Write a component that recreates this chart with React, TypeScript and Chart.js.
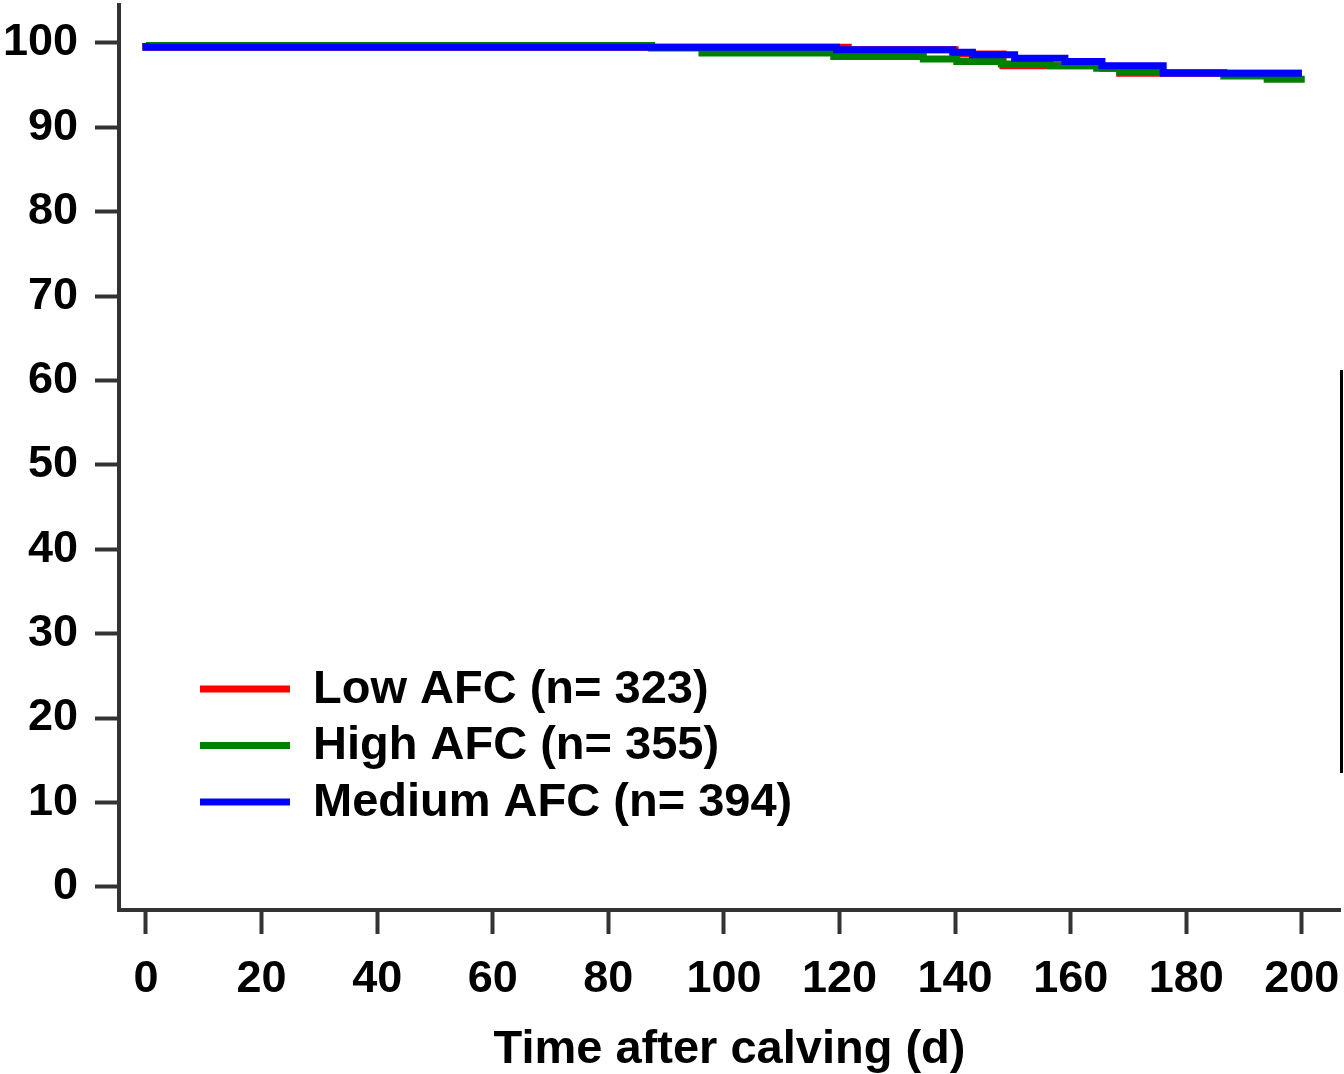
import React, { useEffect, useRef } from "react";
import { Chart, registerables } from "chart.js";

Chart.register(...registerables);

// Kaplan-Meier style step curves (time in days, percent)
const LOW_TIMES = [0, 121.5, 140, 148.3, 165.5, 168.5, 179, 200];
const LOW_VALUES = [100, 99.5, 99.2, 98.7, 97.3, 97.0, 96.4, 96.4];

const HIGH_TIMES = [0, 87.5, 96.2, 119, 134.5, 140.3, 148, 156.4, 164.5, 168.5, 186.5, 194, 197, 200.5];
const HIGH_VALUES = [100, 99.7, 99.4, 98.8, 98.4, 98.1, 97.8, 97.5, 97.3, 97.0, 96.5, 96.1, 95.7, 95.7];

const MEDIUM_TIMES = [0, 119.5, 139.6, 143, 150.3, 159, 165.4, 176, 179, 200];
const MEDIUM_VALUES = [100, 99.5, 99.2, 98.9, 98.6, 98.2, 97.8, 97.3, 96.4, 96.4];

const SERIES_LABELS = ["Low AFC (n= 323)", "High AFC (n= 355)", "Medium AFC (n= 394)"];
const SERIES_COLORS = ["#ff0000", "#008000", "#0000ff"];

const X_TICKS = [0, 20, 40, 60, 80, 100, 120, 140, 160, 180, 200];
const Y_TICKS = [0, 10, 20, 30, 40, 50, 60, 70, 80, 90, 100];
const X_TITLE = "Time after calving (d)";

const FONT_FAMILY = '"Liberation Sans", Arial, sans-serif';
const AXIS_COLOR = "#333333";

const toPoints = (xs: number[], ys: number[]) => xs.map((x, i) => ({ x, y: ys[i] }));

const legendPlugin = {
  id: "customLegend",
  afterDraw(chart: any) {
    const ctx = chart.ctx;
    ctx.save();
    const startY = 689;
    const gap = 56.5;
    chart.data.datasets.forEach((ds: any, i: number) => {
      const y = startY + i * gap;
      ctx.strokeStyle = ds.borderColor;
      ctx.lineWidth = 7;
      ctx.beginPath();
      ctx.moveTo(200, y);
      ctx.lineTo(290, y);
      ctx.stroke();
      ctx.fillStyle = "#000";
      ctx.font = `bold 47px ${FONT_FAMILY}`;
      ctx.textBaseline = "middle";
      ctx.textAlign = "left";
      ctx.fillText(ds.label, 313, y + 1);
    });
    // stray frame edge at right
    ctx.strokeStyle = "#000";
    ctx.lineWidth = 3;
    ctx.beginPath();
    ctx.moveTo(1341.5, 370);
    ctx.lineTo(1341.5, 773);
    ctx.stroke();
    ctx.restore();
  },
};

export default function App() {
  const ref = useRef<HTMLCanvasElement>(null);

  useEffect(() => {
    if (!ref.current) return;
    const seriesTimes = [LOW_TIMES, HIGH_TIMES, MEDIUM_TIMES];
    const seriesValues = [LOW_VALUES, HIGH_VALUES, MEDIUM_VALUES];
    const orders = [2, 1, 0];
    const chart = new Chart(ref.current, {
      type: "line",
      data: {
        datasets: SERIES_LABELS.map((label, i) => ({
          label,
          data: toPoints(seriesTimes[i], seriesValues[i]),
          borderColor: SERIES_COLORS[i],
          backgroundColor: SERIES_COLORS[i],
          borderWidth: 7,
          pointRadius: 0,
          stepped: "after" as const,
          fill: false,
          order: orders[i],
        })),
      },
      options: {
        animation: false,
        responsive: false,
        maintainAspectRatio: false,
        layout: { padding: { left: 0, right: 4, top: 5, bottom: 0 } },
        plugins: {
          legend: { display: false },
          tooltip: { enabled: false },
        },
        scales: {
          x: {
            type: "linear",
            min: -4.67,
            max: 206.6,
            afterBuildTicks: (s: any) => {
              s.ticks = X_TICKS.map((v) => ({ value: v }));
            },
            afterFit: (s: any) => {
              s.height = 164;
              s.paddingLeft = 0;
              s.paddingRight = 0;
            },
            grid: {
              drawOnChartArea: false,
              drawTicks: true,
              tickLength: 24,
              tickWidth: 4,
              tickColor: AXIS_COLOR,
            },
            border: { color: AXIS_COLOR, width: 4 },
            ticks: {
              color: "#000",
              font: { family: FONT_FAMILY, size: 45, weight: "bold" },
              padding: 19,
              maxRotation: 0,
              autoSkip: false,
              callback: (v: any) => String(v),
            },
            title: {
              display: true,
              text: X_TITLE,
              color: "#000",
              font: { family: FONT_FAMILY, size: 47, weight: "bold", lineHeight: 1 },
              padding: { top: 0, bottom: 0 },
            },
          },
          y: {
            type: "linear",
            min: -2.75,
            max: 104.5,
            afterBuildTicks: (s: any) => {
              s.ticks = Y_TICKS.map((v) => ({ value: v }));
            },
            afterFit: (s: any) => {
              s.width = 119;
              s.paddingTop = 0;
              s.paddingBottom = 0;
            },
            grid: {
              drawOnChartArea: false,
              drawTicks: true,
              tickLength: 24,
              tickWidth: 4,
              tickColor: AXIS_COLOR,
            },
            border: { color: AXIS_COLOR, width: 4 },
            ticks: {
              color: "#000",
              font: { family: FONT_FAMILY, size: 45, weight: "bold" },
              padding: 17,
              autoSkip: false,
              callback: (v: any) => String(v),
            },
          },
        },
      },
      plugins: [legendPlugin],
    });
    return () => chart.destroy();
  }, []);

  return (
    <div style={{ position: "fixed", left: 0, top: 0, width: 1344, height: 1074, background: "#fff" }}>
      <canvas ref={ref} width={1344} height={1074} style={{ width: 1344, height: 1074, display: "block" }} />
    </div>
  );
}
